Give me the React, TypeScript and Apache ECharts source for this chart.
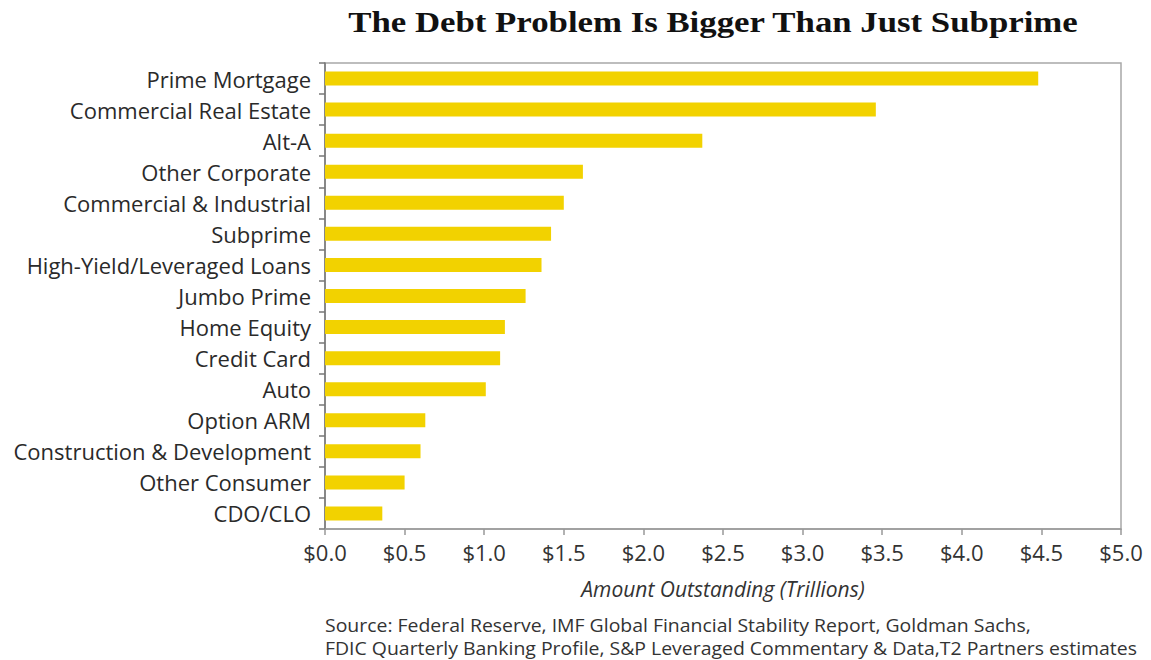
import React, { useEffect, useRef } from "react";
import * as echarts from "echarts";

const categories = [
  "Prime Mortgage",
  "Commercial Real Estate",
  "Alt-A",
  "Other Corporate",
  "Commercial & Industrial",
  "Subprime",
  "High-Yield/Leveraged Loans",
  "Jumbo Prime",
  "Home Equity",
  "Credit Card",
  "Auto",
  "Option ARM",
  "Construction & Development",
  "Other Consumer",
  "CDO/CLO",
];

const amounts = [4.48, 3.46, 2.37, 1.62, 1.5, 1.42, 1.36, 1.26, 1.13, 1.1, 1.01, 0.63, 0.6, 0.5, 0.36];

const titleText = "The Debt Problem Is Bigger Than Just Subprime";
const axisName = "Amount Outstanding (Trillions)";
const sourceLines = [
  "Source: Federal Reserve, IMF Global Financial Stability Report, Goldman Sachs,",
  "FDIC Quarterly Banking Profile, S&P Leveraged Commentary & Data,T2 Partners estimates",
];

const SANS = "'Open Sans', 'Noto Sans', sans-serif";

export default function App() {
  const ref = useRef<HTMLDivElement>(null);

  useEffect(() => {
    if (!ref.current) return;
    const chart = echarts.init(ref.current, undefined, { renderer: "svg" });
    chart.setOption({
      animation: false,
      backgroundColor: "#ffffff",
      grid: {
        left: 325,
        right: 30,
        top: 63,
        bottom: 131,
        show: true,
        borderColor: "#a8a8a8",
        borderWidth: 1.5,
        backgroundColor: "transparent",
      },
      xAxis: {
        type: "value",
        min: 0,
        max: 5,
        interval: 0.5,
        name: axisName,
        nameLocation: "middle",
        nameGap: 49,
        nameTextStyle: {
          fontFamily: SANS,
          fontStyle: "italic",
          fontSize: 21,
          color: "#333",
        },
        axisLine: { show: true, lineStyle: { color: "#999", width: 1.5 } },
        axisTick: { show: true, length: 6, lineStyle: { color: "#999", width: 1.5 } },
        splitLine: { show: false },
        axisLabel: {
          margin: 12,
          fontFamily: SANS,
          fontSize: 22,
          color: "#333",
          formatter: (v: number) => "$" + v.toFixed(1),
        },
      },
      yAxis: {
        type: "category",
        data: categories,
        inverse: true,
        axisLine: { show: true, lineStyle: { color: "#777", width: 1.5 } },
        axisTick: { show: true, length: 6, lineStyle: { color: "#777", width: 1.5 } },
        axisLabel: {
          margin: 14,
          fontFamily: SANS,
          fontSize: 22,
          color: "#2a2a2a",
        },
      },
      series: [
        {
          type: "bar",
          data: amounts,
          barWidth: 14,
          itemStyle: { color: "#F2D200" },
        },
      ],
      graphic: [
        {
          type: "text",
          x: 713,
          y: 22,
          scaleX: 1.16,
          style: {
            text: titleText,
            fontFamily: "'Liberation Serif', 'DejaVu Serif', serif",
            fontWeight: "bold",
            fontSize: 30,
            fill: "#111",
            textAlign: "center",
            textVerticalAlign: "middle",
          },
        },
        {
          type: "text",
          x: 325,
          y: 625,
          scaleX: 1.08,
          style: {
            text: sourceLines[0],
            fontFamily: SANS,
            fontSize: 18,
            fill: "#333",
            textAlign: "left",
            textVerticalAlign: "middle",
          },
        },
        {
          type: "text",
          x: 325,
          y: 648,
          scaleX: 1.08,
          style: {
            text: sourceLines[1],
            fontFamily: SANS,
            fontSize: 18,
            fill: "#333",
            textAlign: "left",
            textVerticalAlign: "middle",
          },
        },
      ],
    });
    return () => chart.dispose();
  }, []);

  return (
    <div
      ref={ref}
      style={{ position: "absolute", left: 0, top: 0, width: 1151, height: 660 }}
    />
  );
}
